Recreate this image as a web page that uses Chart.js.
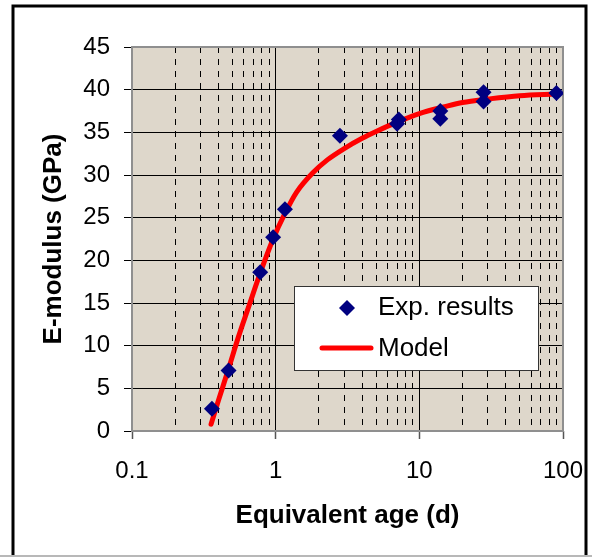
<!DOCTYPE html>
<html><head><meta charset="utf-8">
<script src="https://cdn.jsdelivr.net/npm/chart.js@4"></script>
<style>html,body{margin:0;padding:0;background:#fff;}#wrap{width:592px;height:558px;position:relative;}</style>
</head><body><div id="wrap"><canvas id="c" width="592" height="558"></canvas></div>
<script>
// Experimental results
const expAge = [0.36, 0.47, 0.78, 0.96, 1.16, 2.8, 7.0, 7.2, 14, 14, 28, 28, 90];
const expE   = [2.6, 7.1, 18.6, 22.7, 26.0, 34.6, 36.0, 36.5, 37.5, 36.6, 39.7, 38.6, 39.6];
// Model curve
const modelAge = [0.355, 0.40, 0.47, 0.55, 0.65, 0.78, 0.96, 1.16, 1.4, 1.8, 2.3, 3.0, 4.0, 5.0, 7.0, 10, 15, 20, 30, 50, 90];
const modelE   = [0.8, 3.6, 7.3, 11.0, 14.6, 18.5, 22.5, 25.5, 28.0, 30.2, 31.8, 33.1, 34.3, 35.1, 36.2, 37.2, 38.0, 38.5, 38.9, 39.3, 39.5];
// Axis ticks
const xTickLabels = ['0.1', '1', '10', '100'];
const yMin = 0, yMax = 45, yStep = 5;
const seriesLabels = ['Exp. results', 'Model'];

const FONT = "'Liberation Sans', Arial, sans-serif";
const isDecade = v => Math.abs(Math.log10(v) - Math.round(Math.log10(v))) < 1e-9;

const decorPlugin = {
  id: 'decor',
  beforeDraw(chart) {
    const {ctx, chartArea: a} = chart;
    ctx.save();
    ctx.fillStyle = '#ded7cb';
    ctx.fillRect(a.left, a.top, a.right - a.left, a.bottom - a.top);
    ctx.restore();
  },
  beforeDatasetsDraw(chart) {
    const {ctx, chartArea: a} = chart;
    ctx.save();
    ctx.strokeStyle = '#8f8f8f';
    ctx.lineWidth = 2;
    ctx.strokeRect(a.left, a.top, a.right - a.left, a.bottom - a.top);
    ctx.restore();
  },
  afterDatasetsDraw(chart) {
    const {ctx} = chart;
    const ds = chart.data.datasets;
    ctx.save();
    // legend box
    ctx.fillStyle = '#ffffff';
    ctx.fillRect(294, 286, 244, 84);
    ctx.strokeStyle = '#333';
    ctx.lineWidth = 1;
    ctx.strokeRect(294.5, 286.5, 244, 84);
    // diamond
    ctx.fillStyle = ds[0].backgroundColor;
    ctx.beginPath();
    ctx.moveTo(347, 300); ctx.lineTo(355, 308); ctx.lineTo(347, 316); ctx.lineTo(339, 308);
    ctx.closePath(); ctx.fill();
    // line
    ctx.strokeStyle = ds[1].borderColor;
    ctx.lineWidth = 5; ctx.lineCap = 'round';
    ctx.beginPath(); ctx.moveTo(322, 348); ctx.lineTo(371, 348); ctx.stroke();
    ctx.fillStyle = '#000';
    ctx.font = "26px " + FONT;
    ctx.textBaseline = 'middle';
    ctx.textAlign = 'left';
    ctx.fillText(ds[0].label, 378, 308);
    ctx.fillText(ds[1].label, 378, 349);
    ctx.restore();
  },
  afterDraw(chart) {
    const {ctx} = chart;
    ctx.save();
    ctx.strokeStyle = '#000';
    ctx.lineWidth = 3;
    ctx.beginPath();
    ctx.moveTo(13, 555); ctx.lineTo(13, 6); ctx.lineTo(586, 6); ctx.lineTo(586, 555);
    ctx.stroke();
    ctx.strokeStyle = '#a0a0a0';
    ctx.lineWidth = 1.5;
    ctx.beginPath(); ctx.moveTo(0, 556); ctx.lineTo(592, 556); ctx.stroke();
    ctx.restore();
  }
};

new Chart(document.getElementById('c'), {
  type: 'scatter',
  data: {
    datasets: [
      {
        label: seriesLabels[0],
        data: expAge.map((x, i) => ({x, y: expE[i]})),
        backgroundColor: '#000080',
        borderColor: '#000080',
        pointStyle: 'rectRot',
        pointRadius: 8,
        pointHoverRadius: 8,
        borderWidth: 0,
        order: 0
      },
      {
        label: seriesLabels[1],
        data: modelAge.map((x, i) => ({x, y: modelE[i]})),
        showLine: true,
        borderColor: '#ff0000',
        backgroundColor: '#ff0000',
        borderWidth: 5,
        borderCapStyle: 'round',
        pointRadius: 0,
        pointHoverRadius: 0,
        cubicInterpolationMode: 'monotone',
        order: 1
      }
    ]
  },
  options: {
    responsive: false,
    animation: false,
    events: [],
    layout: {padding: {top: 47, right: 29, bottom: 0, left: 0}},
    plugins: {legend: {display: false}, tooltip: {enabled: false}},
    scales: {
      x: {
        type: 'logarithmic',
        min: 0.1, max: 100,
        afterBuildTicks: (scale) => {
          const t = [];
          for (let e = -1; e <= 1; e++) for (let m = 1; m <= 9; m++) t.push(+(m * Math.pow(10, e)).toPrecision(3));
          t.push(100);
          scale.ticks = t.map(v => ({value: v, major: isDecade(v)}));
        },
        afterFit: (scale) => { scale.height = 127; scale.paddingLeft = 0; scale.paddingRight = 0; },
        ticks: {
          autoSkip: false, maxRotation: 0, minRotation: 0,
          color: '#000', padding: 18,
          font: {family: FONT, size: 24},
          callback: (v) => isDecade(v) ? xTickLabels[Math.round(Math.log10(v)) + 1] : ''
        },
        grid: {
          color: '#000',
          lineWidth: 1,
          tickLength: 8,
          tickColor: (ctx) => (ctx.tick && isDecade(ctx.tick.value)) ? '#555' : 'rgba(0,0,0,0)',
          tickWidth: 1.5
        },
        border: {
          display: false,
          dash: (ctx) => (ctx.tick && isDecade(ctx.tick.value)) ? [] : [6, 6]
        },
        title: {
          display: true, text: 'Equivalent age (d)', color: '#000',
          font: {family: FONT, size: 26, weight: 'bold'},
          padding: {top: 0, bottom: 27}
        }
      },
      y: {
        min: yMin, max: yMax,
        afterFit: (scale) => { scale.width = 132; scale.paddingTop = 0; scale.paddingBottom = 0; },
        ticks: {
          stepSize: yStep, color: '#000', padding: 14,
          font: {family: FONT, size: 24}
        },
        grid: {color: '#000', lineWidth: 1, tickLength: 8, tickColor: '#000'},
        border: {display: false},
        title: {
          display: true, text: 'E-modulus (GPa)', color: '#000',
          font: {family: FONT, size: 26, weight: 'bold'},
          padding: {top: 38, bottom: 0}
        }
      }
    }
  },
  plugins: [decorPlugin]
});
</script></body></html>
